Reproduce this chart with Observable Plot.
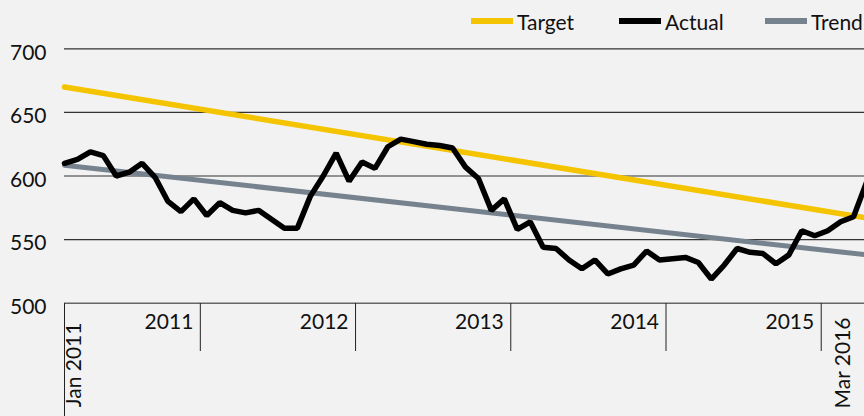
<!DOCTYPE html>
<html><head><meta charset="utf-8">
<script src="https://cdn.jsdelivr.net/npm/d3@7"></script>
<script src="https://cdn.jsdelivr.net/npm/@observablehq/plot@0.6"></script>
<style>
html,body{margin:0;padding:0;background:#f2f2f2;overflow:hidden;}
body{width:864px;height:416px;font-family:Lato,sans-serif;font-weight:400;}
#legend{height:36px;position:relative;white-space:nowrap;overflow:hidden;width:864px;}
.item{position:absolute;top:0;height:42px;display:flex;align-items:center;font-size:21px;color:#111;}
.sw{width:42px;height:6px;margin-right:4px;}
</style></head><body>
<div id="legend"></div>
<div id="chart"></div>
<script>
// Monthly categories Jan 2011 .. Mar 2016
const months = d3.utcMonths(new Date(Date.UTC(2011,0,1)), new Date(Date.UTC(2016,3,1))).map(d3.utcFormat("%b %Y"));
const actual = [610,613,619,616,600,603,610,599,580,572,582,569,579,573,571,573,566,559,559,584,600,618,596,611,606,623,629,627,625,624,622,607,598,573,582,558,564,544,543,534,527,534,523,527,530,541,534,535,536,532,519,530,543,540,539,531,538,557,553,557,564,568,595];
const targetMonths = ["Jan 2011","Mar 2016"];
const targetValues = [670, 567];
const trendMonths = ["Jan 2011","Mar 2016"];
const trendValues = [608.5, 538];
const yTicks = [500,550,600,650,700];
const yearLabels = ["2011","2012","2013","2014","2015"];
const yearBoundaries = [10.5,22.5,34.5,46.5,58.5]; // in month-index units
const endLabels = ["Jan 2011","Mar 2016"];
const seriesNames = ["Target","Actual","Trend"];
const seriesColors = ["#f5c400","#000000","#76838f"];

// legend (HTML, above the SVG)
const legendLeft = [471,619,765];
const leg = document.getElementById("legend");
seriesNames.forEach((n,k)=>{
  const it = document.createElement("div");
  it.className="item"; it.style.left = legendLeft[k]+"px";
  it.innerHTML = `<div class="sw" style="background:${seriesColors[k]}"></div><span>${n}</span>`;
  leg.appendChild(it);
});

const actualData = actual.map((v,i)=>({i, v}));
const targetData = targetMonths.map((m,k)=>({i: months.indexOf(m), v: targetValues[k]}));
const trendData = trendMonths.map((m,k)=>({i: months.indexOf(m), v: trendValues[k]}));
const yearData = yearLabels.map((l,k)=>({x: yearBoundaries[k], label: l}));
const firstData = [{i: months.indexOf(endLabels[0]), label: endLabels[0]}];
const lastData = [{i: months.indexOf(endLabels[1]), label: endLabels[1]}];

const chart = Plot.plot({
  width: 864,
  height: 380,
  marginLeft: 64, marginRight: 0, marginTop: 12, marginBottom: 113,
  style: {background: "#f2f2f2", fontFamily: "Lato, sans-serif", color: "#111", overflow: "hidden"},
  x: {type: "linear", domain: [0, 62], range: [64, 866], label: null},
  y: {domain: [500, 700], range: [266.7, 12.3], label: null},
  marks: [
    Plot.ruleY(yTicks.filter(t => t !== 500), {stroke: "#333", strokeWidth: 1.2}),
    Plot.ruleY([500], {stroke: "#666", strokeWidth: 1.6}),
    Plot.axisY(yTicks, {tickSize: 0, tickPadding: 18, fontSize: 21, dy: 4, fill: "#111", label: null}),
    Plot.axisX(yearBoundaries, {tickSize: 48, fill: "none", stroke: "#222", label: null}),
    Plot.axisX([0], {tickSize: 114, fill: "none", stroke: "#222", label: null}),
    Plot.text(yearData, {x: "x", text: "label", frameAnchor: "bottom", textAnchor: "end", dx: -7, dy: 25, fontSize: 21, fill: "#111"}),
    Plot.text(firstData, {x: "i", text: "label", frameAnchor: "bottom", rotate: -90, textAnchor: "end", dx: 16, dy: 19, fontSize: 21, fill: "#111"}),
    Plot.text(lastData, {x: "i", text: "label", frameAnchor: "bottom", rotate: -90, textAnchor: "end", dx: -17, dy: 14, fontSize: 21, fill: "#111"}),
    Plot.line(trendData, {x: "i", y: "v", stroke: seriesColors[2], strokeWidth: 5}),
    Plot.line(targetData, {x: "i", y: "v", stroke: seriesColors[0], strokeWidth: 5.5}),
    Plot.line(actualData, {x: "i", y: "v", stroke: seriesColors[1], strokeWidth: 5.5, strokeLinejoin: "miter"})
  ]
});
document.getElementById("chart").appendChild(chart);
</script>
</body></html>
